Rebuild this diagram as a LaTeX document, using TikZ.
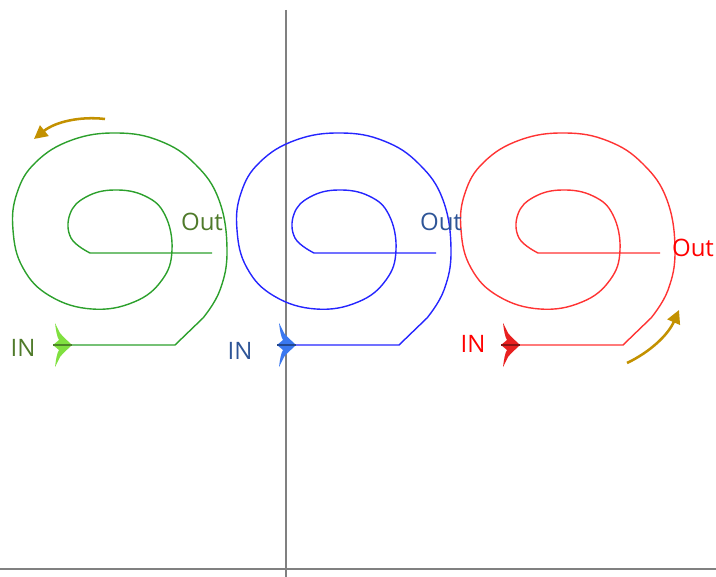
\documentclass[tikz,border=0pt]{standalone}
\usepackage{fontspec}
\setsansfont{Open Sans}
\usepackage{tikz}
\usetikzlibrary{arrows.meta}

\definecolor{spiralgreen}{HTML}{2CA02C}
\definecolor{textgreen}{HTML}{4F7A2A}
\definecolor{headgreen}{HTML}{80E040}
\definecolor{spiralblue}{HTML}{2525FF}
\definecolor{textblue}{HTML}{2E5597}
\definecolor{headblue}{HTML}{3A78F0}
\definecolor{spiralred}{HTML}{FF3333}
\definecolor{textred}{HTML}{FF0000}
\definecolor{headred}{HTML}{E82020}
\definecolor{flowbrown}{HTML}{C39100}

\tikzset{
	label text/.style={font=\sffamily\fontsize{18}{21}\selectfont, inner sep=0pt},
	flow arrow/.style={flowbrown, line width=1.9pt, -{Triangle[length=10pt, width=10pt]}},
}

\begin{document}
\begin{tikzpicture}[x=0.75pt, y=-0.75pt]
	\useasboundingbox (0,0) rectangle (716,577);
	\draw[gray, line width=1.4pt] (286,10) -- (286,577);
	\draw[gray, line width=1.4pt] (0,569) -- (716,569);
	\foreach \dx/\linecol/\headcol/\i in {0/spiralgreen/headgreen/1, 224/spiralblue/headblue/2, 448/spiralred/headred/3} {
		\begin{scope}[shift={(\dx,0)}]
			\coordinate (in\i) at (53,345);
			\coordinate (out\i) at (212,253);
			\draw[\linecol, line width=1.05pt, line join=round] (in\i) -- (175,345) -- (203,318)
				-- plot[smooth, tension=0.7] coordinates {
				(203,318) (220,290) (227,250) (219,200) (195,164) (160,141) (117,133)
				(72,140) (36,162) (17,193) (13,230) (23,268) (50,296) (92,309)
				(134,302) (162,280) (172,250) (165,215) (145,196) (114,190) (86,197)
				(70,214) (71,238) (90,253)} -- (out\i);
			% fletched arrowhead at the inlet
			\fill[\headcol, shift={(72,345)}] (0,0) .. controls (-4,-4) and (-9,-8) .. (-12,-12)
				.. controls (-14,-16) .. (-17,-22) .. controls (-16,-14) and (-15,-8) .. (-13,-5)
				-- (-19,0) -- (-13,5) .. controls (-15,8) and (-16,14) .. (-17,22)
				.. controls (-14,16) .. (-12,12) .. controls (-9,8) and (-4,4) .. (0,0) -- cycle;
			\draw[\headcol!60!black, line width=1pt] (in\i) -- ++(19,0);
		\end{scope}
	}
	\node[label text, textgreen] (inlabel1) at (23,348) {IN};
	\node[label text, textblue] (inlabel2) at (240,351) {IN};
	\node[label text, textred] (inlabel3) at (473,344) {IN};
	\node[label text, textgreen] (outlabel1) at (202,222) {Out};
	\node[label text, textblue] (outlabel2) at (441,222) {Out};
	\node[label text, textred] (outlabel3) at (693,248) {Out};
	\draw[flow arrow] (105,119) .. controls (80,116) and (55,122) .. (34,139);
	\draw[flow arrow] (627,363) .. controls (650,352) and (668,335) .. (679,310);
\end{tikzpicture}
\end{document}
